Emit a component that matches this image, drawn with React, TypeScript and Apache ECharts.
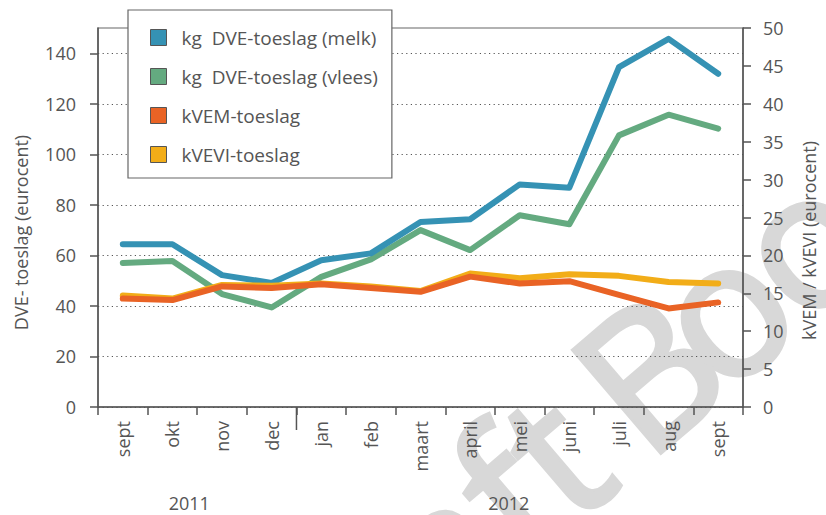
import React, { useEffect, useRef } from 'react';
import * as echarts from 'echarts';

const FONT = '"Open Sans", Roboto, sans-serif';
const TEXT = '#555555';

const months = ['sept', 'okt', 'nov', 'dec', 'jan', 'feb', 'maart', 'april', 'mei', 'juni', 'juli', 'aug', 'sept'];
const years = ['2011', '2012'];
const seriesNames = ['kg  DVE-toeslag (melk)', 'kg  DVE-toeslag (vlees)', 'kVEM-toeslag', 'kVEVI-toeslag'];
const seriesColors = ['#3592b4', '#64aa80', '#e96325', '#f2ad18'];

const dveMelk = [64.4, 64.4, 52.2, 49.1, 58.1, 60.8, 73.2, 74.3, 88.1, 86.8, 134.5, 145.7, 131.9];
const dveVlees = [57.0, 57.8, 44.7, 39.4, 51.5, 58.4, 70.0, 62.1, 75.9, 72.3, 107.5, 115.7, 110.2];
const kvem = [14.3, 14.1, 15.9, 15.7, 16.2, 15.7, 15.2, 17.2, 16.3, 16.6, 14.8, 13.0, 13.8];
const kvevi = [14.7, 14.3, 16.1, 16.0, 16.3, 15.9, 15.3, 17.6, 17.0, 17.5, 17.3, 16.5, 16.3];

const leftTicks = [0, 20, 40, 60, 80, 100, 120, 140];
const rightTicks = [0, 5, 10, 15, 20, 25, 30, 35, 40, 45, 50];

export default function App() {
  const ref = useRef<HTMLDivElement>(null);

  useEffect(() => {
    if (!ref.current) return;
    const chart = echarts.init(ref.current, null, { renderer: 'svg' });

    const lineSeries = (name: string, data: number[], color: string, yAxisIndex: number, z: number) => ({
      name,
      type: 'line',
      data,
      yAxisIndex,
      z,
      symbol: 'none',
      showSymbol: false,
      itemStyle: { color },
      lineStyle: { color, width: 6, cap: 'round', join: 'round' },
    });

    chart.setOption({
      animation: false,
      backgroundColor: '#ffffff',
      textStyle: { fontFamily: FONT },
      grid: {
        left: 98,
        right: 78,
        top: 28,
        bottom: 108,
        show: true,
        borderColor: '#666',
        borderWidth: 1.2,
        backgroundColor: 'transparent',
      },
      legend: {
        orient: 'vertical',
        left: 128,
        top: 10,
        icon: 'rect',
        itemWidth: 16,
        itemHeight: 16,
        itemGap: 20,
        padding: [18, 14, 14, 22],
        borderColor: '#666',
        borderWidth: 1.2,
        backgroundColor: '#ffffff',
        itemStyle: { borderColor: '#555', borderWidth: 1 },
        textStyle: { fontSize: 19, color: TEXT, fontFamily: FONT, padding: [0, 0, 0, 10] },
        data: seriesNames,
      },
      xAxis: {
        type: 'category',
        data: months,
        boundaryGap: true,
        axisLine: { lineStyle: { color: TEXT, width: 1.5 } },
        axisTick: { show: true, length: 8, interval: 0, lineStyle: { color: TEXT, width: 1.5 } },
        axisLabel: { interval: 0, rotate: 90, margin: 14, fontSize: 18, color: TEXT, fontFamily: FONT },
        splitLine: { show: false },
      },
      yAxis: [
        {
          type: 'value',
          position: 'left',
          min: 0,
          max: 150,
          interval: 20,
          name: 'DVE- toeslag (eurocent)',
          nameLocation: 'middle',
          nameRotate: 90,
          nameGap: 68,
          nameTextStyle: { fontSize: 18, color: TEXT, fontFamily: FONT, padding: [0, 30, 0, 0] },
          axisLine: { show: true, lineStyle: { color: TEXT, width: 1.5 } },
          axisTick: { show: true, length: 8, customValues: leftTicks, lineStyle: { color: TEXT, width: 1.5 } },
          axisLabel: {
            customValues: leftTicks,
            margin: 22,
            fontSize: 18,
            color: TEXT,
            fontFamily: FONT,
            formatter: (v: number) => (leftTicks.indexOf(v) >= 0 ? String(v) : ''),
          },
          splitLine: { show: true, lineStyle: { type: [1.2, 3.4], color: '#555', width: 1.2 } },
        },
        {
          type: 'value',
          position: 'right',
          min: 0,
          max: 50,
          interval: 5,
          name: 'kVEM / kVEVI (eurocent)',
          nameLocation: 'middle',
          nameRotate: 90,
          nameGap: 57,
          nameTextStyle: { fontSize: 18, color: TEXT, fontFamily: FONT, padding: [0, 46, 0, 0] },
          axisLine: { show: true, lineStyle: { color: TEXT, width: 1.5 } },
          axisTick: { show: true, length: 8, customValues: rightTicks, lineStyle: { color: TEXT, width: 1.5 } },
          axisLabel: { customValues: rightTicks, margin: 20, fontSize: 18, color: TEXT, fontFamily: FONT },
          splitLine: { show: false },
        },
      ],
      series: [
        lineSeries(seriesNames[0], dveMelk, seriesColors[0], 0, 3),
        lineSeries(seriesNames[1], dveVlees, seriesColors[1], 0, 2),
        lineSeries(seriesNames[3], kvevi, seriesColors[3], 1, 4),
        lineSeries(seriesNames[2], kvem, seriesColors[2], 1, 5),
      ],
    });

    const px = (i: number) => chart.convertToPixel({ xAxisIndex: 0 }, i) as number;
    const yBase = chart.convertToPixel({ yAxisIndex: 0 }, 0) as number;
    const sepX = (px(3) + px(4)) / 2;
    const c2011 = (px(0) + px(3)) / 2 - 8;
    const c2012 = (px(4) + px(12)) / 2 - 11;

    const WM_SIZE = 188;
    const mid = -0.388 * WM_SIZE; // central baseline above the alphabetic baseline
    const wmStyle = {
      fontSize: WM_SIZE,
      fontFamily: '"Open Sans", sans-serif',
      fontWeight: 400,
      fill: '#d8d8d8',
      stroke: '#d8d8d8',
      lineWidth: 5,
      verticalAlign: 'middle',
    };

    chart.setOption({
      graphic: [
        {
          type: 'group',
          x: 660,
          y: 453,
          rotation: (40.5 * Math.PI) / 180,
          z: -10,
          silent: true,
          children: [
            { type: 'text', x: -47, y: mid, z: -10, style: { ...wmStyle, text: 'Draft', align: 'right' } },
            { type: 'text', x: -17, y: mid, z: -10, style: { ...wmStyle, text: 'B', align: 'left' } },
            { type: 'text', x: 140, y: mid, z: -10, style: { ...wmStyle, text: 'o', align: 'center' } },
            { type: 'text', x: 246, y: mid, z: -10, style: { ...wmStyle, text: 'o', align: 'center' } },
          ],
        },
        {
          type: 'line',
          z: 10,
          shape: { x1: sepX, y1: yBase, x2: sepX, y2: yBase + 23 },
          style: { stroke: TEXT, lineWidth: 1.5 },
        },
        {
          type: 'text',
          z: 10,
          x: c2011,
          y: 503,
          style: { text: years[0], fontSize: 18, fill: TEXT, fontFamily: FONT, align: 'center', verticalAlign: 'middle' },
        },
        {
          type: 'text',
          z: 10,
          x: c2012,
          y: 503,
          style: { text: years[1], fontSize: 18, fill: TEXT, fontFamily: FONT, align: 'center', verticalAlign: 'middle' },
        },
      ],
    });

    return () => chart.dispose();
  }, []);

  return <div ref={ref} style={{ position: 'absolute', left: 0, top: 0, width: 826, height: 515 }} />;
}
